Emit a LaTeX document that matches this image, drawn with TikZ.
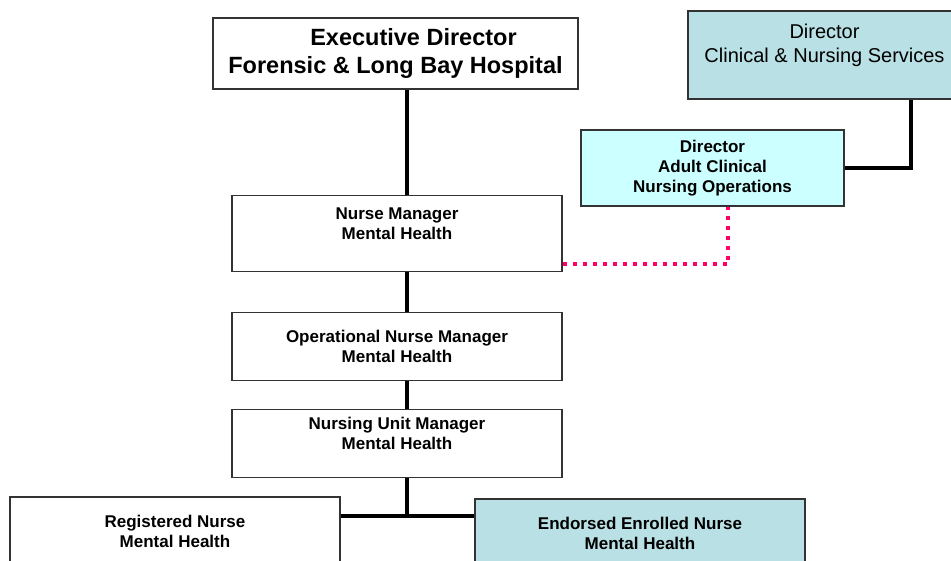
\documentclass[tikz,border=0pt]{standalone}
\usepackage{fontspec}
\setmainfont{Liberation Sans}
\usetikzlibrary{positioning}
\definecolor{tealfill}{RGB}{185,224,228}
\definecolor{cyanfill}{RGB}{204,255,255}
\definecolor{dotpink}{RGB}{255,0,102}

\begin{document}
\begin{tikzpicture}[%
    x=1pt, y=-1pt,
    squarednode/.style={rectangle, align=center, draw=black!80, line width=1.2pt, fill=white, inner sep=0pt, minimum width=330pt, minimum height=68pt, font=\fontsize{17}{20}\selectfont\bfseries},
    tealnode/.style={squarednode, fill=tealfill},
    cyannode/.style={squarednode, fill=cyanfill},
    solidline/.style={line width=3.2pt, black},
    dotline/.style={line width=4pt, dotpink, dash pattern=on 4pt off 6pt},
]
\useasboundingbox (0,0) rectangle (951,560);
\clip (0,0) rectangle (951,560);

% Executive
\node[squarednode, minimum width=365pt, minimum height=71pt, font=\fontsize{23.5}{28}\selectfont\bfseries] (executive) at (395.5,53.5) {\hspace*{36pt}Executive Director\\Forensic \& Long Bay Hospital};

% Directors
\node[tealnode, minimum width=273pt, minimum height=88pt, font=\fontsize{20}{24}\selectfont] (clinicaldirector) at (824.5,55) {Director\\Clinical \& Nursing Services\\ \mbox{}};
\node[cyannode, minimum width=263pt, minimum height=76pt] (adultdirector) at (712.5,168) {Director\\Adult Clinical\\Nursing Operations};

% Managers
\node[squarednode, minimum height=76pt] (nursemanager) [below=105pt of executive, xshift=1.5pt] {Nurse Manager\\Mental Health\\ \mbox{}};
\node[squarednode] (opmanager) [below=40pt of nursemanager] {Operational Nurse Manager\\Mental Health};
\node[squarednode] (unitmanager) [below=28pt of opmanager] {Nursing Unit Manager\\Mental Health\\ \mbox{}};

% Nurses
\node[squarednode] (registered) at (175,531) {Registered Nurse\\Mental Health};
\node[tealnode] (enrolled) at (640,533) {Endorsed Enrolled Nurse\\Mental Health};
\coordinate (split) at (407,516);

% Lines
\draw[solidline] ([xshift=10pt]nursemanager.north |- executive.south) -- ([xshift=10pt]nursemanager.north);
\draw[solidline] ([xshift=10pt]nursemanager.south) -- ([xshift=10pt]opmanager.north);
\draw[solidline] ([xshift=10pt]opmanager.south) -- ([xshift=10pt]unitmanager.north);
\draw[solidline] ([xshift=10pt]unitmanager.south) -- (split);
\draw[solidline] (registered.east |- split) -- (enrolled.west |- split);
\draw[solidline] (adultdirector.east) -| ([xshift=86.5pt]clinicaldirector.south);
\draw[dotline] ([yshift=-31pt]nursemanager.east) -| ([xshift=15.5pt]adultdirector.south);

\end{tikzpicture}
\end{document}
